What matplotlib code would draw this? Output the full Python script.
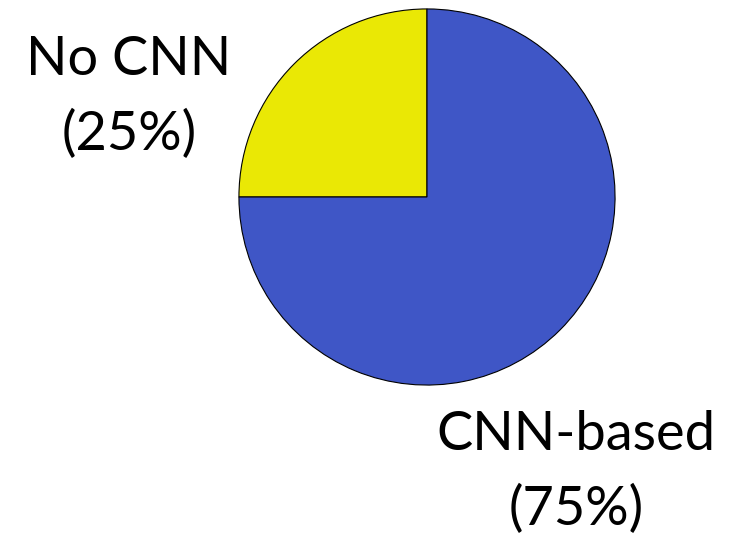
import matplotlib
matplotlib.use("Agg")
import matplotlib.pyplot as plt

labels = ["No CNN\n(25%)", "CNN-based\n(75%)"]
shares = [25, 75]
colors = ["#EAE805", "#3F56C6"]

W, H = 748, 535
fig = plt.figure(figsize=(W / 100, H / 100), dpi=100)

# pie axes: circle centred at (427, 197) px, radius 189 px
ax = fig.add_axes([238 / W, 1 - 386 / H, 378 / W, 378 / H])
ax.pie(shares, colors=colors, startangle=90, counterclock=True,
       wedgeprops=dict(edgecolor="black", linewidth=0.8))
ax.set_aspect("equal")
ax.set_xlim(-1.005, 1.005)
ax.set_ylim(-1.005, 1.005)
ax.axis("off")

font = dict(family=["Lato", "DejaVu Sans"], fontsize=39, ha="center",
            va="center", linespacing=1.62)
fig.text(129 / W, 1 - 97 / H, labels[0], **font)
fig.text(576 / W, 1 - 472 / H, labels[1], **font)

fig.savefig("out.png", dpi=100, facecolor="white")
